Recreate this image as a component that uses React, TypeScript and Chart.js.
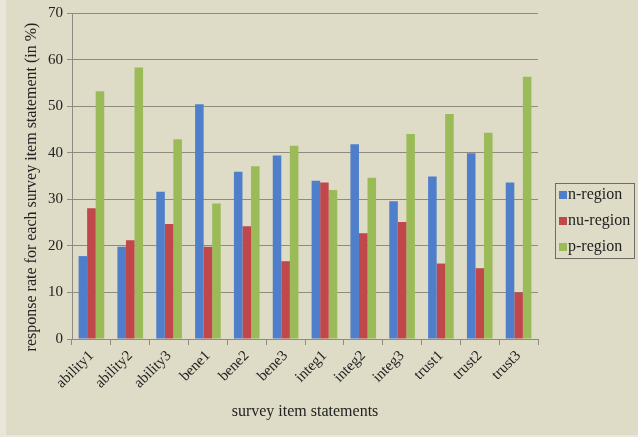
import React, { useEffect, useRef } from "react";
import { Chart, registerables } from "chart.js";

Chart.register(...registerables);

const categories = [
  "ability1", "ability2", "ability3",
  "bene1", "bene2", "bene3",
  "integ1", "integ2", "integ3",
  "trust1", "trust2", "trust3",
];

const nRegion = [17.8, 19.8, 31.6, 50.4, 35.9, 39.4, 34.0, 41.8, 29.6, 34.9, 39.9, 33.6];
const nuRegion = [28.1, 21.2, 24.7, 19.8, 24.2, 16.7, 33.6, 22.7, 25.1, 16.2, 15.2, 10.0];
const pRegion = [53.2, 58.3, 42.9, 29.1, 37.1, 41.5, 32.0, 34.6, 44.0, 48.3, 44.3, 56.3];

const seriesLabels = ["n-region", "nu-region", "p-region"];
const seriesColors = ["#4f7fcb", "#c0474a", "#9bbb59"];

const yTicks = [0, 10, 20, 30, 40, 50, 60, 70];

const yTitle = "response rate for each survey item statement (in %)";
const xTitle = "survey item statements";

const FONT = "'Liberation Serif', 'DejaVu Serif', serif";
const GRID = "#8e8c80";
const TEXT = "#222222";

// Boxed legend at the right of the plot
const boxedLegend = {
  id: "boxedLegend",
  afterDraw(chart: any) {
    const ctx = chart.ctx;
    const x = 555;
    const y = 183;
    const w = 79;
    const h = 75;
    ctx.save();
    ctx.strokeStyle = "#6e6c64";
    ctx.lineWidth = 1;
    ctx.strokeRect(x + 0.5, y + 0.5, w, h);
    ctx.font = `16px ${FONT}`;
    ctx.textBaseline = "middle";
    ctx.textAlign = "left";
    chart.data.datasets.forEach((ds: any, i: number) => {
      const cy = y + 12 + i * 26;
      ctx.fillStyle = ds.backgroundColor;
      ctx.fillRect(x + 4, cy - 4, 8, 8);
      ctx.fillStyle = TEXT;
      ctx.fillText(ds.label, x + 13, cy);
    });
    ctx.restore();
  },
};

// Vertical value-axis title, set close to the tick numbers
const sideTitle = {
  id: "sideTitle",
  afterDraw(chart: any) {
    const ctx = chart.ctx;
    ctx.save();
    ctx.translate(32, 187);
    ctx.rotate(-Math.PI / 2);
    ctx.font = `16px ${FONT}`;
    ctx.fillStyle = TEXT;
    ctx.textAlign = "center";
    ctx.textBaseline = "middle";
    ctx.fillText(yTitle, 0, 0);
    ctx.restore();
  },
};

export default function App() {
  const canvasRef = useRef<HTMLCanvasElement | null>(null);

  useEffect(() => {
    const canvas = canvasRef.current;
    if (!canvas) return;
    const values = [nRegion, nuRegion, pRegion];
    const chart = new Chart(canvas, {
      type: "bar",
      data: {
        labels: categories,
        datasets: values.map((data, i) => ({
          label: seriesLabels[i],
          data,
          backgroundColor: seriesColors[i],
          borderWidth: 0,
          categoryPercentage: 0.66,
          barPercentage: 1.0,
        })),
      },
      options: {
        responsive: false,
        animation: false,
        devicePixelRatio: 1,
        layout: { padding: { left: 6, top: 10, right: 100, bottom: 0 } },
        plugins: {
          legend: { display: false },
          tooltip: { enabled: false },
        },
        scales: {
          x: {
            grid: {
              drawOnChartArea: false,
              drawTicks: true,
              tickLength: 6,
              color: GRID,
              offset: true,
            },
            border: { color: GRID, width: 1 },
            ticks: {
              color: TEXT,
              font: { family: FONT, size: 15 },
              minRotation: 45,
              maxRotation: 45,
              padding: 2,
              autoSkip: false,
            },
            title: {
              display: true,
              text: xTitle,
              color: TEXT,
              font: { family: FONT, size: 16 },
              padding: { top: 4, bottom: 16 },
            },
            afterFit: (scale: any) => {
              scale.height = 98;
            },
          },
          y: {
            min: 0,
            max: 70,
            afterBuildTicks: (scale: any) => {
              scale.ticks = yTicks.map((v) => ({ value: v }));
            },
            grid: {
              color: GRID,
              tickLength: 5,
              lineWidth: 1,
            },
            border: { color: GRID, width: 1 },
            ticks: {
              color: TEXT,
              font: { family: FONT, size: 15 },
              padding: 4,
            },
            afterFit: (scale: any) => {
              scale.width = 66;
            },
          },
        },
      },
      plugins: [boxedLegend, sideTitle],
    });
    return () => chart.destroy();
  }, []);

  return (
    <div
      style={{
        position: "fixed",
        left: 0,
        top: 0,
        width: 638,
        height: 437,
        background: "#e9e7da",
      }}
    >
      <div
        style={{
          position: "absolute",
          left: 6,
          top: 0,
          width: 632,
          height: 435,
          background: "#dedbc6",
        }}
      />
      <canvas
        ref={canvasRef}
        width={638}
        height={437}
        style={{ position: "absolute", left: 0, top: 0, display: "block" }}
      />
    </div>
  );
}
